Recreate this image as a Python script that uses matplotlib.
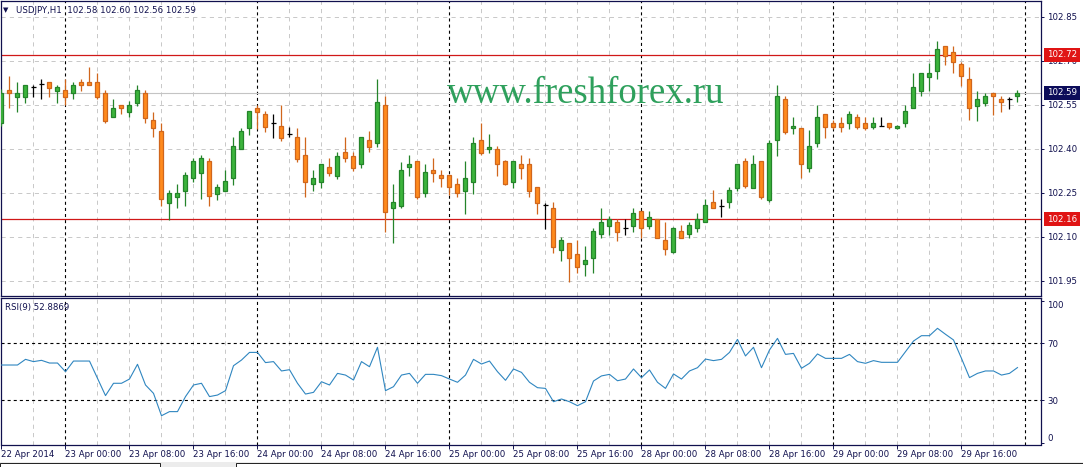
import matplotlib
matplotlib.use('Agg')
import matplotlib.pyplot as plt
import matplotlib.transforms as mtransforms
from matplotlib.patches import Rectangle
import numpy as np

plt.rcParams['font.family'] = 'DejaVu Sans'
plt.rcParams['lines.scale_dashes'] = False

# USDJPY H1, 22 Apr 2014 16:00 .. 29 Apr 2014 23:00
opens = [102.488, 102.600, 102.577, 102.577, 102.611, 102.620, 102.626, 102.598, 102.600, 102.589,
         102.627, 102.627, 102.627, 102.591, 102.507, 102.549, 102.526, 102.557, 102.591, 102.498,
         102.460, 102.216, 102.236, 102.257, 102.299, 102.318, 102.358, 102.246, 102.257, 102.299,
         102.398, 102.470, 102.538, 102.518, 102.487, 102.477, 102.450, 102.439, 102.379, 102.279,
         102.288, 102.337, 102.308, 102.388, 102.376, 102.347, 102.430, 102.418, 102.549, 102.197,
         102.206, 102.337, 102.358, 102.248, 102.327, 102.310, 102.310, 102.280, 102.257, 102.288,
         102.430, 102.398, 102.398, 102.358, 102.288, 102.347, 102.347, 102.269, 102.208, 102.197,
         102.055, 102.079, 102.041, 102.007, 102.029, 102.108, 102.138, 102.149, 102.129, 102.138,
         102.188, 102.138, 102.159, 102.089, 102.047, 102.120, 102.108, 102.129, 102.149, 102.217,
         102.206, 102.217, 102.267, 102.358, 102.267, 102.358, 102.225, 102.430, 102.569, 102.470,
         102.470, 102.335, 102.418, 102.517, 102.487, 102.487, 102.487, 102.507, 102.487, 102.475,
         102.477, 102.487, 102.470, 102.487, 102.538, 102.598, 102.646, 102.666, 102.750, 102.729,
         102.689, 102.637, 102.547, 102.557, 102.589, 102.569, 102.569, 102.580]
highs = [102.604, 102.648, 102.627, 102.616, 102.617, 102.637, 102.626, 102.617, 102.637, 102.627,
         102.639, 102.680, 102.657, 102.600, 102.568, 102.549, 102.564, 102.617, 102.600, 102.526,
         102.489, 102.259, 102.280, 102.322, 102.369, 102.379, 102.367, 102.280, 102.327, 102.439,
         102.470, 102.529, 102.549, 102.529, 102.518, 102.549, 102.475, 102.470, 102.439, 102.327,
         102.347, 102.367, 102.388, 102.439, 102.388, 102.439, 102.460, 102.637, 102.580, 102.280,
         102.356, 102.379, 102.358, 102.347, 102.367, 102.327, 102.310, 102.299, 102.358, 102.439,
         102.489, 102.450, 102.409, 102.362, 102.358, 102.379, 102.367, 102.269, 102.216, 102.219,
         102.100, 102.079, 102.089, 102.068, 102.131, 102.197, 102.171, 102.159, 102.159, 102.197,
         102.188, 102.188, 102.162, 102.149, 102.132, 102.140, 102.149, 102.180, 102.228, 102.259,
         102.228, 102.271, 102.347, 102.367, 102.379, 102.358, 102.430, 102.617, 102.580, 102.507,
         102.472, 102.464, 102.549, 102.517, 102.498, 102.507, 102.529, 102.517, 102.507, 102.507,
         102.507, 102.487, 102.481, 102.549, 102.657, 102.657, 102.691, 102.767, 102.750, 102.750,
         102.697, 102.678, 102.598, 102.589, 102.589, 102.580, 102.577, 102.600]
lows = [102.477, 102.539, 102.525, 102.557, 102.577, 102.568, 102.577, 102.557, 102.549, 102.568,
        102.598, 102.616, 102.568, 102.487, 102.507, 102.517, 102.507, 102.546, 102.487, 102.439,
        102.205, 102.157, 102.197, 102.205, 102.288, 102.228, 102.205, 102.225, 102.257, 102.276,
        102.398, 102.447, 102.466, 102.458, 102.438, 102.427, 102.439, 102.356, 102.236, 102.257,
        102.267, 102.308, 102.297, 102.356, 102.325, 102.335, 102.388, 102.407, 102.117, 102.078,
        102.197, 102.308, 102.228, 102.236, 102.288, 102.269, 102.242, 102.236, 102.177, 102.246,
        102.379, 102.386, 102.307, 102.275, 102.267, 102.297, 102.236, 102.177, 102.125, 102.046,
        102.018, 101.947, 101.975, 101.967, 101.975, 102.097, 102.106, 102.086, 102.106, 102.117,
        102.097, 102.126, 102.094, 102.038, 102.044, 102.097, 102.097, 102.117, 102.149, 102.197,
        102.168, 102.197, 102.257, 102.267, 102.267, 102.228, 102.217, 102.376, 102.449, 102.449,
        102.299, 102.320, 102.407, 102.438, 102.466, 102.458, 102.466, 102.466, 102.464, 102.467,
        102.477, 102.467, 102.467, 102.475, 102.538, 102.580, 102.598, 102.637, 102.685, 102.657,
        102.614, 102.498, 102.496, 102.546, 102.515, 102.526, 102.535, 102.560]
closes = [102.590, 102.589, 102.589, 102.616, 102.611, 102.620, 102.608, 102.609, 102.577, 102.617,
          102.616, 102.616, 102.577, 102.495, 102.538, 102.538, 102.549, 102.600, 102.504, 102.470,
          102.228, 102.248, 102.248, 102.310, 102.358, 102.367, 102.239, 102.268, 102.290, 102.409,
          102.460, 102.529, 102.526, 102.475, 102.487, 102.438, 102.450, 102.365, 102.288, 102.299,
          102.347, 102.318, 102.376, 102.367, 102.335, 102.439, 102.407, 102.558, 102.185, 102.217,
          102.327, 102.347, 102.236, 102.320, 102.318, 102.299, 102.269, 102.248, 102.299, 102.418,
          102.386, 102.407, 102.347, 102.279, 102.358, 102.335, 102.257, 102.216, 102.208, 102.066,
          102.089, 102.027, 101.998, 102.021, 102.120, 102.149, 102.159, 102.117, 102.129, 102.180,
          102.129, 102.168, 102.097, 102.057, 102.129, 102.097, 102.140, 102.159, 102.208, 102.197,
          102.206, 102.259, 102.347, 102.274, 102.347, 102.236, 102.418, 102.580, 102.458, 102.477,
          102.347, 102.409, 102.507, 102.475, 102.475, 102.475, 102.517, 102.475, 102.470, 102.487,
          102.477, 102.475, 102.477, 102.529, 102.609, 102.657, 102.657, 102.739, 102.717, 102.697,
          102.648, 102.538, 102.568, 102.580, 102.580, 102.558, 102.569, 102.590]
rsi = [54.7, 54.7, 54.7, 58.7, 57.1, 58.0, 56.1, 56.1, 50.0, 57.5,
       57.5, 57.5, 45.3, 33.1, 41.8, 41.8, 44.8, 55.2, 40.6, 34.7,
       18.9, 21.8, 21.8, 32.4, 40.6, 41.8, 32.4, 33.5, 36.6, 54.2,
       58.2, 63.6, 63.6, 56.4, 57.1, 50.5, 51.4, 41.8, 34.2, 35.4,
       42.9, 40.6, 48.8, 47.6, 44.1, 57.1, 53.5, 67.2, 36.6, 39.4,
       47.6, 48.8, 41.8, 48.1, 48.1, 47.2, 44.8, 42.5, 47.6, 58.7,
       55.4, 57.5, 50.0, 43.9, 51.9, 49.5, 42.5, 38.7, 38.2, 28.8,
       30.7, 28.8, 26.0, 28.8, 43.4, 47.0, 48.1, 43.6, 44.8, 51.9,
       45.8, 51.2, 42.5, 38.2, 48.4, 44.8, 50.5, 52.8, 58.9, 57.8,
       58.7, 63.6, 72.8, 61.1, 67.2, 52.8, 65.3, 73.5, 62.2, 62.9,
       52.4, 55.9, 62.5, 59.4, 59.4, 59.4, 62.2, 57.1, 55.9, 57.8,
       56.6, 56.6, 56.6, 64.1, 71.6, 75.4, 75.4, 80.6, 76.4, 72.4,
       59.4, 45.8, 48.8, 50.5, 50.5, 47.6, 48.8, 52.8869]

symbol = 'USDJPY,H1'
rsi_period = 9
resistance = 102.72
support = 102.16
bid = 102.59
price_ticks = [101.95, 102.10, 102.25, 102.40, 102.55, 102.70, 102.85]
rsi_ticks = [0, 30, 70, 100]
rsi_levels = [30, 70]
time_labels = ['22 Apr 2014', '23 Apr 00:00', '23 Apr 08:00', '23 Apr 16:00',
               '24 Apr 00:00', '24 Apr 08:00', '24 Apr 16:00', '25 Apr 00:00',
               '25 Apr 08:00', '25 Apr 16:00', '28 Apr 00:00', '28 Apr 08:00',
               '28 Apr 16:00', '29 Apr 00:00', '29 Apr 08:00', '29 Apr 16:00']
day_starts = [8, 32, 56, 80, 104, 128]

navy = '#10104e'
green, green_edge = '#3cb43c', '#24842a'
orange, orange_edge = '#ff8a1c', '#d0661c'

W, H = 1083, 467
fig = plt.figure(figsize=(W / 100, H / 100), dpi=100)
fig.patch.set_facecolor('white')


def px_axes(left, top, right, bottom):
    return fig.add_axes([left / W, 1 - bottom / H, (right - left) / W, (bottom - top) / H])


ax = px_axes(1, 1, 1041, 295.5)
ax_rsi = px_axes(1, 298, 1041, 444.5)

n = len(opens)
x = np.arange(n)
o, h, l, c = (np.array(v) for v in (opens, highs, lows, closes))

for a in (ax, ax_rsi):
    a.set_xlim(-0.0625, 129.94)
    for s in a.spines.values():
        s.set_color(navy)
        s.set_linewidth(0.9)
    # light grid every 4 bars, dotted black day separators
    for k in range(0, 130, 4):
        if k in day_starts:
            a.axvline(k, color='black', lw=0.8, dashes=(2.2, 2.2), zorder=1)
        elif k > 0:
            a.axvline(k, color='#c8c8c8', lw=0.7, dashes=(3, 3), zorder=0)
    a.yaxis.tick_right()
    a.tick_params(axis='y', direction='out', length=2.2, width=0.7, color=navy,
                  labelsize=6.2, labelcolor=navy, pad=2.2)

# ---- price panel ----
ax.set_ylim(101.8996, 102.9036)
for p in price_ticks:
    ax.axhline(p, color='#c8c8c8', lw=0.7, dashes=(3, 3), zorder=0)
ax.axhline(bid, color='#c4c4c4', lw=0.8, zorder=1)
ax.axhline(resistance, color='#d01818', lw=0.9, zorder=2)
ax.axhline(support, color='#d01818', lw=0.9, zorder=2)

ax.text(0.5625, 0.6537, 'www.freshforex.ru', transform=ax.transAxes, ha='center',
        va='baseline', fontsize=26.5, family='Liberation Serif', color='#2ea05c', zorder=1)

up = c > o
dn = c < o
dj = c == o
ax.vlines(x[up], l[up], h[up], color=green_edge, lw=0.9, zorder=3)
ax.bar(x[up], (c - o)[up], bottom=o[up], width=0.5, color=green,
       edgecolor=green_edge, lw=0.9, zorder=4)
ax.vlines(x[dn], l[dn], h[dn], color=orange_edge, lw=0.9, zorder=3)
ax.bar(x[dn], (o - c)[dn], bottom=c[dn], width=0.5, color=orange,
       edgecolor=orange_edge, lw=0.9, zorder=4)
ax.vlines(x[dj], l[dj], h[dj], color='black', lw=0.9, zorder=3)
ax.hlines(c[dj], x[dj] - 0.32, x[dj] + 0.32, color='black', lw=0.9, zorder=4)

ax.set_xticks([])
ax.set_yticks(price_ticks)
ax.set_yticklabels([f'{p:.2f}' for p in price_ticks])

lab_tr = mtransforms.blended_transform_factory(ax.transAxes, ax.transData)
for val, fc in ((resistance, '#e01414'), (support, '#e01414'), (bid, '#0c0c5a')):
    ax.text(1.0058, val, f'{val:.2f}', transform=lab_tr, ha='left', va='center',
            color='white', fontsize=6.2, clip_on=False, zorder=10,
            bbox=dict(boxstyle='square,pad=0.3', fc=fc, ec='none'))

ax.text(0.0043, 0.9694, '\u25bc', transform=ax.transAxes, ha='center', va='center',
        fontsize=5, color=navy)
ax.text(0.0144, 0.9694, f'{symbol}  {opens[-1]:.2f} {highs[-1]:.2f} {lows[-1]:.2f} {closes[-1]:.2f}',
        transform=ax.transAxes, ha='left', va='center', fontsize=6.2, color=navy)

# ---- RSI panel ----
ax_rsi.set_ylim(-1.41, 102.0)
for lv in rsi_levels:
    ax_rsi.axhline(lv, color='black', lw=0.8, dashes=(2.2, 2.2), zorder=1)
ax_rsi.plot(x, rsi, color='#2f86c0', lw=0.8, zorder=3)
ax_rsi.set_yticks(rsi_ticks)
ax_rsi.set_yticklabels([str(t) for t in rsi_ticks])
for t, tick in zip(rsi_ticks, ax_rsi.yaxis.get_major_ticks()):
    if t == 100:
        tick.label2.set_va('top')
    elif t == 0:
        tick.label2.set_va('bottom')
ax_rsi.set_xticks(np.arange(0, n, 8))
ax_rsi.set_xticklabels(time_labels, ha='left')
ax_rsi.tick_params(axis='x', direction='out', length=3, width=0.7, color=navy,
                   labelsize=6.2, labelcolor=navy, pad=1)
ax_rsi.text(0.0038, 0.935, f'RSI({rsi_period}) {rsi[-1]:.4f}', transform=ax_rsi.transAxes,
            ha='left', va='center', fontsize=6.2, color=navy)

# window tabs at the bottom edge
fig.patches.append(Rectangle((0, 0), 1, 5 / H, transform=fig.transFigure,
                             fc='#ececec', ec='none'))
for x0, x1 in ((0, 160), (236, 1083)):
    fig.patches.append(Rectangle((x0 / W, -0.01), (x1 - x0) / W, 0.01 + 4.5 / H,
                                 transform=fig.transFigure, fc='white', ec='#202020', lw=0.7))

fig.savefig('out.png', dpi=100, facecolor='white')
